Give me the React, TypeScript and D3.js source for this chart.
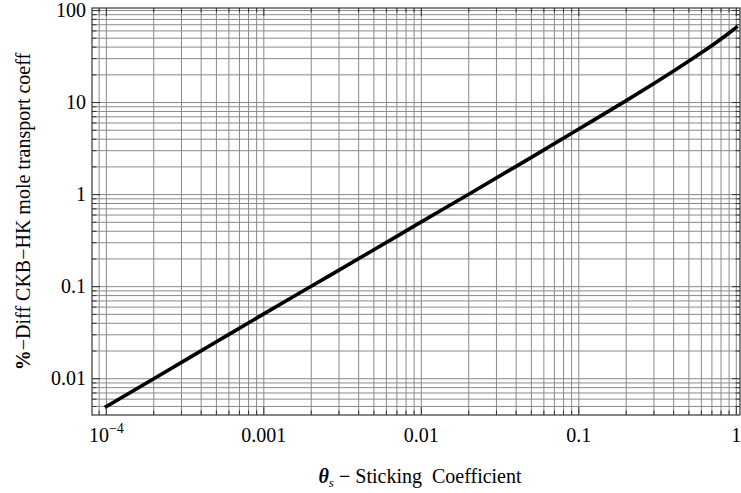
import React, { useEffect, useRef } from "react";
import * as d3 from "d3";

// sticking coefficient (x) vs %-difference of the mole transport coefficient (y)
const stickingCoeff = [0.0001, 0.0002, 0.0005, 0.001, 0.002, 0.005, 0.01, 0.02, 0.05, 0.1, 0.2, 0.3, 0.4, 0.5, 0.6, 0.7, 0.8, 0.9, 1];
const pctDiff = [0.005, 0.01, 0.0252, 0.0506, 0.101, 0.252, 0.505, 1.01, 2.54, 5.15, 10.5, 16.1, 22.0, 28.2, 34.7, 41.6, 49, 57, 65.5];

const xTickValues = [0.0001, 0.001, 0.01, 0.1, 1];
const xTickLabels = ["10^-4", "0.001", "0.01", "0.1", "1"];
const yTickValues = [0.01, 0.1, 1, 10, 100];
const yTickLabels = ["0.01", "0.1", "1", "10", "100"];

const width = 741;
const height = 493;
const margin = { top: 8, right: 1, bottom: 78, left: 92 };

// 1..9 x 10^k inside a domain
function logSteps(lo: number, hi: number) {
  const out: number[] = [];
  for (let e = Math.floor(Math.log10(lo)); e <= Math.ceil(Math.log10(hi)); e++) {
    for (let m = 1; m <= 9; m++) {
      const v = m * Math.pow(10, e);
      if (v >= lo * 0.9999 && v <= hi * 1.0001) out.push(+v.toPrecision(3));
    }
  }
  return out;
}

export default function App() {
  const ref = useRef<SVGGElement>(null);

  useEffect(() => {
    const g = d3.select(ref.current);
    g.selectAll("*").remove();

    const x = d3
      .scaleLog()
      .domain([Math.pow(10, -4.091), Math.pow(10, 0.0235)])
      .range([margin.left, width - margin.right]);
    const y = d3
      .scaleLog()
      .domain([Math.pow(10, -2.394), Math.pow(10, 2.027)])
      .range([height - margin.bottom, margin.top]);

    const [x0, x1] = x.range();
    const [y0, y1] = y.range();
    const xs = logSteps(x.domain()[0], x.domain()[1]);
    const ys = logSteps(y.domain()[0], y.domain()[1]);

    // grid
    const grid = g.append("g").attr("stroke", "#8a8a8a").attr("stroke-width", 1);
    grid
      .selectAll("line.gx")
      .data(xs)
      .enter()
      .append("line")
      .attr("x1", (d) => x(d))
      .attr("x2", (d) => x(d))
      .attr("y1", y1)
      .attr("y2", y0);
    grid
      .selectAll("line.gy")
      .data(ys)
      .enter()
      .append("line")
      .attr("x1", x0)
      .attr("x2", x1)
      .attr("y1", (d) => y(d))
      .attr("y2", (d) => y(d));

    // curve
    const pts = stickingCoeff.map((v, i) => [v, pctDiff[i]] as [number, number]);
    g.append("path")
      .datum(pts)
      .attr("fill", "none")
      .attr("stroke", "#000")
      .attr("stroke-width", 3.6)
      .attr("stroke-linecap", "square")
      .attr(
        "d",
        d3
          .line<[number, number]>()
          .x((d) => x(d[0]))
          .y((d) => y(d[1]))
          .curve(d3.curveMonotoneX)
      );

    // frame
    g.append("rect")
      .attr("x", x0)
      .attr("y", y1)
      .attr("width", x1 - x0)
      .attr("height", y0 - y1)
      .attr("fill", "none")
      .attr("stroke", "#444")
      .attr("stroke-width", 1.3);

    // ticks on all four sides
    const isMajor = (v: number) => Math.abs(Math.log10(v) - Math.round(Math.log10(v))) < 1e-6;
    const ticks = g.append("g").attr("stroke", "#333").attr("stroke-width", 1);
    xs.forEach((v) => {
      const len = isMajor(v) ? 8 : 4.5;
      ticks.append("line").attr("x1", x(v)).attr("x2", x(v)).attr("y1", y0).attr("y2", y0 - len);
      ticks.append("line").attr("x1", x(v)).attr("x2", x(v)).attr("y1", y1).attr("y2", y1 + len);
    });
    ys.forEach((v) => {
      const len = isMajor(v) ? 8 : 4.5;
      ticks.append("line").attr("x1", x0).attr("x2", x0 + len).attr("y1", y(v)).attr("y2", y(v));
      ticks.append("line").attr("x1", x1).attr("x2", x1 - len).attr("y1", y(v)).attr("y2", y(v));
    });

    // tick labels
    const font = "Liberation Serif, DejaVu Serif, serif";
    g.style("font-family", font);
    xTickValues.forEach((v, i) => {
      const label = xTickLabels[i];
      const t = g
        .append("text")
        .attr("x", x(v))
        .attr("y", 442)
        .attr("text-anchor", "middle")
        .attr("font-size", 20)
        .attr("fill", "#000");
      if (label.includes("^")) {
        const [base, exp] = label.split("^");
        t.append("tspan").text(base);
        t.append("tspan")
          .attr("dy", -9)
          .attr("font-size", 14)
          .text(exp.replace("-", "\u2212"));
      } else {
        t.text(label);
      }
    });
    yTickValues.forEach((v, i) => {
      g.append("text")
        .attr("x", 86)
        .attr("y", y(v))
        .attr("dy", "0.33em")
        .attr("text-anchor", "end")
        .attr("font-size", 20)
        .attr("fill", "#000")
        .text(yTickLabels[i]);
    });

    // x axis title
    const xt = g
      .append("text")
      .attr("x", 420)
      .attr("y", 483)
      .attr("text-anchor", "middle")
      .attr("font-size", 20)
      .attr("fill", "#000");
    xt.append("tspan").attr("font-weight", "bold").attr("font-style", "italic").text("\u03b8");
    xt.append("tspan").attr("font-style", "italic").attr("font-size", 13).attr("dy", 4).text("s");
    xt.append("tspan").attr("dy", -4).attr("font-weight", "bold").text(" \u2212 ");
    xt.append("tspan").text("Sticking\u00a0\u00a0Coefficient");

    // y axis title
    const yt = g
      .append("text")
      .attr("transform", `translate(30,${(y0 + y1) / 2}) rotate(-90)`)
      .attr("text-anchor", "middle")
      .attr("font-size", 20)
      .attr("fill", "#000");
    yt.append("tspan").attr("font-weight", "bold").text("%");
    yt.append("tspan").text("\u2212Diff CKB\u2212HK mole transport coeff");
  }, []);

  return (
    <svg width={width} height={height} style={{ display: "block", position: "absolute", left: 0, top: 0, background: "#fff" }}>
      <g ref={ref} />
    </svg>
  );
}
